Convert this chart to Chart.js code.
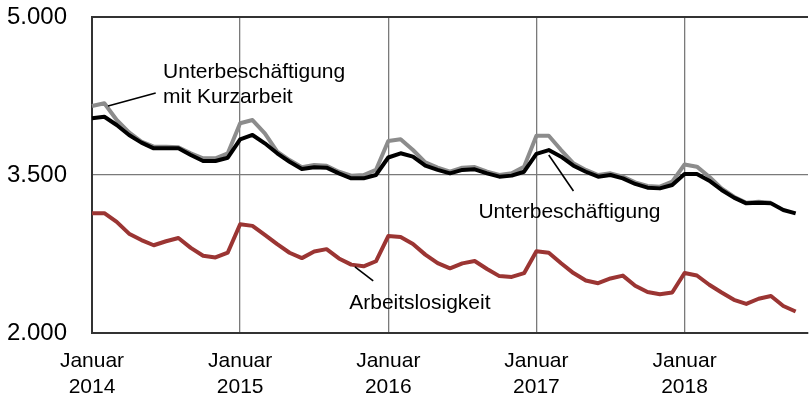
<!DOCTYPE html>
<html lang="de">
<head>
<meta charset="utf-8">
<title>Arbeitslosigkeit und Unterbeschäftigung</title>
<script src="https://cdn.jsdelivr.net/npm/chart.js@4"></script>
<style>
  html, body { margin: 0; padding: 0; background: #fff; }
  #wrap { width: 812px; height: 395px; }
</style>
</head>
<body>
<div id="wrap"><canvas id="chart" width="812" height="395"></canvas></div>
<script>
// Monthly figures in thousands, January 2014 onwards
const years = [2014, 2015, 2016, 2017, 2018];
const monthNames = ['Jan', 'Feb', 'Mär', 'Apr', 'Mai', 'Jun', 'Jul', 'Aug', 'Sep', 'Okt', 'Nov', 'Dez'];

const unterbeschaeftigungKurzarbeit = [
  4155, 4181, 4022, 3905, 3816, 3769, 3769, 3763, 3706, 3659, 3659, 3706,
  3991, 4022, 3896, 3721, 3642, 3573, 3595, 3588, 3531, 3493, 3500, 3548,
  3823, 3839, 3737, 3620, 3570, 3531, 3570, 3576, 3531, 3500, 3516, 3579,
  3873, 3873, 3737, 3611, 3548, 3500, 3516, 3484, 3430, 3396, 3389, 3437,
  3600, 3579, 3484, 3373, 3294, 3237, 3247, 3237
];

const unterbeschaeftigung = [
  4038, 4053, 3975, 3880, 3807, 3753, 3753, 3753, 3690, 3633, 3633, 3664,
  3839, 3880, 3801, 3706, 3626, 3557, 3573, 3570, 3516, 3468, 3468, 3500,
  3666, 3706, 3674, 3588, 3548, 3516, 3548, 3554, 3516, 3484, 3494, 3531,
  3700, 3737, 3674, 3588, 3531, 3484, 3500, 3468, 3415, 3380, 3373, 3405,
  3510, 3510, 3446, 3358, 3285, 3231, 3237, 3231, 3168, 3136
];

const arbeitslosigkeit = [
  3136, 3138, 3055, 2943, 2882, 2833, 2871, 2902, 2808, 2733, 2717, 2764,
  3032, 3017, 2932, 2843, 2762, 2711, 2773, 2796, 2708, 2649, 2633, 2681,
  2920, 2911, 2845, 2744, 2664, 2614, 2661, 2684, 2608, 2540, 2532, 2568,
  2777, 2762, 2662, 2569, 2498, 2473, 2518, 2545, 2449, 2389, 2368, 2385,
  2570, 2546, 2458, 2384, 2315, 2276, 2325, 2351, 2256, 2204
];

const yTickValues = [2000, 3500, 5000];
const yTickLabels = ['2.000', '3.500', '5.000'];
const janLabel = 'Januar';

// month axis: Jan 2014 .. Nov 2018
const categories = [];
years.forEach(y => monthNames.forEach(m => categories.push(m + ' ' + y)));
categories.length = 59;

const FONT = '"Liberation Sans", Arial, sans-serif';

// callouts: text anchored in data units, leader from a point on a line to the label
const callouts = [
  { lines: ['Unterbeschäftigung', 'mit Kurzarbeit'], x: 5.76, y: 4478,
    leader: [[1.3, 4155], [5.16, 4278]] },
  { lines: ['Unterbeschäftigung'], x: 31.3, y: 3149,
    leader: [[37.0, 3690], [39.0, 3348]] },
  { lines: ['Arbeitslosigkeit'], x: 20.84, y: 2285,
    leader: [[21.3, 2627], [22.78, 2494]] }
];

const calloutPlugin = {
  id: 'callouts',
  afterDatasetsDraw(chart) {
    const { ctx, scales: { x, y } } = chart;
    ctx.save();
    ctx.strokeStyle = '#000';
    ctx.lineWidth = 1.6;
    ctx.fillStyle = '#000';
    ctx.font = '21px ' + FONT;
    ctx.textBaseline = 'middle';
    ctx.textAlign = 'left';
    callouts.forEach(c => {
      ctx.beginPath();
      ctx.moveTo(x.getPixelForValue(c.leader[0][0]), y.getPixelForValue(c.leader[0][1]));
      ctx.lineTo(x.getPixelForValue(c.leader[1][0]), y.getPixelForValue(c.leader[1][1]));
      ctx.stroke();
      const px = x.getPixelForValue(c.x);
      const py = y.getPixelForValue(c.y);
      c.lines.forEach((t, i) => ctx.fillText(t, px, py + i * 25));
    });
    ctx.restore();
  }
};

const lineStyle = { borderWidth: 4, pointRadius: 0, tension: 0, borderJoinStyle: 'round', borderCapStyle: 'butt', fill: false };

new Chart(document.getElementById('chart'), {
  type: 'line',
  data: {
    labels: categories,
    datasets: [
      Object.assign({ label: 'Arbeitslosigkeit', data: arbeitslosigkeit, borderColor: '#9b3533' }, lineStyle),
      Object.assign({ label: 'Unterbeschäftigung', data: unterbeschaeftigung, borderColor: '#000000' }, lineStyle),
      Object.assign({ label: 'Unterbeschäftigung mit Kurzarbeit', data: unterbeschaeftigungKurzarbeit, borderColor: '#8c8c8c' }, lineStyle)
    ]
  },
  options: {
    responsive: false,
    animation: false,
    devicePixelRatio: 1,
    layout: { padding: { top: 17, right: 4, left: 0, bottom: 0 } },
    plugins: { legend: { display: false }, tooltip: { enabled: false } },
    scales: {
      x: {
        type: 'category',
        offset: false,
        afterFit(scale) { scale.height = 62; },
        border: { display: true, color: '#333', width: 2 },
        grid: { color: '#7a7a7a', lineWidth: 1.3, drawTicks: false },
        ticks: {
          autoSkip: false,
          maxRotation: 0,
          padding: 16,
          color: '#000',
          font: { family: FONT, size: 21, lineHeight: 1.2 },
          callback(val, i) {
            return i % 12 === 0 ? [janLabel, String(years[i / 12])] : null;
          }
        }
      },
      y: {
        min: 2000,
        max: 5000,
        afterFit(scale) {
          scale.width = 92;
          scale.paddingTop = 0;
          scale.paddingBottom = 0;
        },
        afterBuildTicks(scale) { scale.ticks = yTickValues.map(v => ({ value: v })); },
        border: { display: true, color: '#333', width: 2 },
        grid: {
          drawTicks: false,
          lineWidth: ctx => (ctx.tick && ctx.tick.value === 5000 ? 2 : 1.3),
          color: ctx => (ctx.tick && ctx.tick.value === 5000 ? '#333' : '#7a7a7a')
        },
        ticks: {
          padding: 25,
          color: '#000',
          font: { family: FONT, size: 24 },
          callback(val) {
            const i = yTickValues.indexOf(val);
            return i >= 0 ? yTickLabels[i] : '';
          }
        }
      }
    }
  },
  plugins: [calloutPlugin]
});
</script>
</body>
</html>
